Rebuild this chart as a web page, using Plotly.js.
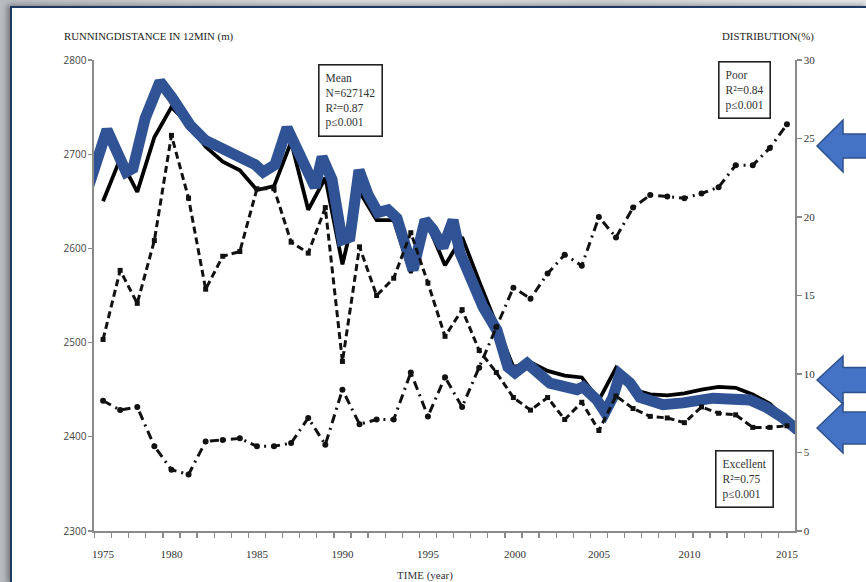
<!DOCTYPE html>
<html>
<head>
<meta charset="utf-8">
<script src="https://cdn.plot.ly/plotly-3.0.1.min.js"></script>
<style>
  html, body { margin: 0; padding: 0; }
  body {
    width: 866px; height: 582px; overflow: hidden; position: relative;
    background: linear-gradient(90deg, #b8bbbf 0%, #d9dbde 40%, #cfd2d5 70%, #e3e5e7 100%);
  }
  #chart {
    position: absolute; left: 10px; top: 6px; width: 856px; height: 576px;
    background: #ffffff;
    border-left: 2px solid #1f3763; border-top: 2px solid #1f3763;
    box-shadow: -3px -1px 5px rgba(0,0,0,0.35);
  }
</style>
</head>
<body>
<div id="chart"></div>
<script>
// Yearly survey values, 1975-2015
const years = [1975,1976,1977,1978,1979,1980,1981,1982,1983,1984,1985,1986,1987,1988,1989,1990,
               1991,1992,1993,1994,1995,1996,1997,1998,1999,2000,2001,2002,2003,2004,2005,2006,
               2007,2008,2009,2010,2011,2012,2013,2014,2015];

// Mean 12-minute running distance (m), left axis
const meanDistance = [2650,2695,2660,2718,2750,2732,2708,2692,2683,2662,2666,2713,2641,2675,2583,2660,
                      2630,2630,2574,2625,2582,2612,2565,2520,2474,2479,2470,2465,2463,2439,2473,2450,
                      2445,2444,2446,2450,2453,2452,2445,2435,2418];

// Share of "Excellent" results (%), right axis
const excellentPct = [12.2,16.6,14.5,18.5,25.2,21.2,15.4,17.5,17.8,21.8,21.8,18.4,17.7,20.6,10.8,18.1,
                      15.0,16.1,19.0,15.8,12.4,14.1,11.5,10.1,8.5,7.7,8.5,7.1,8.2,6.4,8.6,7.8,
                      7.3,7.2,6.9,7.9,7.5,7.4,6.6,6.6,6.7];

// Share of "Poor" results (%), right axis
const poorPct = [8.3,7.7,7.9,5.4,3.9,3.6,5.7,5.8,5.9,5.4,5.4,5.6,7.2,5.5,9.0,6.8,
                 7.1,7.1,10.1,7.3,9.8,7.9,10.4,13.0,15.5,14.8,16.4,17.6,16.9,20.0,18.7,20.6,
                 21.4,21.3,21.2,21.5,21.9,23.3,23.3,24.4,25.9];

// Freehand highlight traced over the mean curve
const highlightYears = [1974.12,1975.23,1976.35,1976.75,1977.46,1978.33,1979.04,1980.09,1980.96,1981.84,
                        1983.01,1983.89,1984.36,1985.06,1985.76,1986.52,1987.40,1987.81,1988.39,1988.98,
                        1989.44,1989.97,1990.50,1991.08,1991.67,1992.19,1993.13,1993.83,1994.30,1994.88,
                        1995.47,1995.88,1996.64,1997.22,1998.04,1998.68,1999.09,1999.80,2001.14,2002.72,
                        2003.07,2003.89,2004.36,2004.82,2005.23,2005.82,2006.40,2007.75,2008.92,2010.67,
                        2012.84,2013.83,2014.77,2015.64];
const highlightValues = [2664,2726,2681,2685,2738,2777,2760,2731,2715,2707,
                         2699,2689,2681,2689,2728,2701,2665,2697,2673,2609,
                         2612,2683,2657,2638,2641,2632,2577,2630,2620,2601,
                         2630,2595,2559,2538,2513,2474,2468,2478,2457,2450,
                         2453,2439,2426,2442,2466,2457,2442,2434,2436,2441,
                         2439,2431,2420,2407];

// Axis labels
const xTickVals = [1975,1979,1984,1989,1994,1999.1,2004,2009.3,2015];
const xTickText = ['1975','1980','1985','1990','1995','2000','2005','2010','2015'];

const serif = 'Liberation Serif, Times New Roman, serif';
const sans = 'Open Sans, Liberation Sans, sans-serif';
const axisGrey = '#8a8a8a';

const traces = [
  {
    x: years, y: poorPct, yaxis: 'y2', type: 'scatter', mode: 'lines+markers',
    line: {color: '#111', width: 3, dash: '9px,5px,2px,5px'},
    marker: {color: '#111', size: 6, symbol: 'circle'},
    hoverinfo: 'skip'
  },
  {
    x: years, y: excellentPct, yaxis: 'y2', type: 'scatter', mode: 'lines+markers',
    line: {color: '#111', width: 3, dash: '7px,4px'},
    marker: {color: '#111', size: 5, symbol: 'square'},
    hoverinfo: 'skip'
  },
  {
    x: years, y: meanDistance, type: 'scatter', mode: 'lines',
    line: {color: '#000', width: 3.8},
    hoverinfo: 'skip'
  },
  {
    x: highlightYears, y: highlightValues, type: 'scatter', mode: 'lines',
    line: {color: '#2f5394', width: 11},
    hoverinfo: 'skip'
  }
];

// Plot area in page pixels, used to place the side arrows and free text
const L = 94, R = 795, T = 60, B = 531, OX = 12, OY = 8;
const px = X => (X - L) / (R - L);
const py = Y => (B - Y) / (B - T);
function arrow(tipY, headHalf, shaftHalf) {
  const tipX = 817, backX = 843, endX = 872;
  const pts = [
    [tipX, tipY], [backX, tipY - headHalf], [backX, tipY - shaftHalf], [endX, tipY - shaftHalf],
    [endX, tipY + shaftHalf], [backX, tipY + shaftHalf], [backX, tipY + headHalf]
  ];
  return {
    type: 'path', xref: 'paper', yref: 'paper',
    path: 'M' + pts.map(p => px(p[0]).toFixed(4) + ',' + py(p[1]).toFixed(4)).join(' L') + ' Z',
    fillcolor: '#4472c4', line: {color: '#2f528f', width: 1.5}, layer: 'above'
  };
}

const boxFont = {family: serif, size: 11.5, color: '#333'};
function statBox(x, y, yref, text) {
  return {
    x: x, y: y, xref: 'x', yref: yref, text: text, showarrow: false, align: 'left',
    font: boxFont, bgcolor: '#fff', bordercolor: '#222', borderwidth: 1.6, borderpad: 6
  };
}

const layout = {
  width: 856, height: 576,
  margin: {l: L - OX, r: 856 - (R - OX), t: T - OY, b: 576 - (B - OY), pad: 0},
  paper_bgcolor: 'rgba(0,0,0,0)', plot_bgcolor: 'rgba(0,0,0,0)',
  showlegend: false,
  xaxis: {
    range: [1974.47, 2015.47], showgrid: false, zeroline: false,
    showline: true, linecolor: axisGrey, linewidth: 1.6,
    tickmode: 'array', tickvals: xTickVals, ticktext: xTickText, ticks: '',
    ticklabelstandoff: 12,
    tickfont: {family: serif, size: 11, color: '#333'},
    minor: {ticks: 'outside', ticklen: 5, tickwidth: 1.3, tickcolor: axisGrey, dtick: 1, tick0: 1974.5, showgrid: false}
  },
  yaxis: {
    range: [2300, 2800], dtick: 100, showgrid: false, zeroline: false,
    showline: true, linecolor: axisGrey, linewidth: 1.6,
    ticks: 'outside', ticklen: 4, tickwidth: 1.3, tickcolor: axisGrey,
    tickfont: {family: sans, size: 10, color: '#444'}
  },
  yaxis2: {
    range: [0, 30], dtick: 5, overlaying: 'y', side: 'right', showgrid: false, zeroline: false,
    showline: true, linecolor: axisGrey, linewidth: 1.6,
    ticks: 'outside', ticklen: 5, tickwidth: 1.3, tickcolor: axisGrey,
    tickfont: {family: serif, size: 11, color: '#333'}
  },
  annotations: [
    {xref: 'paper', yref: 'paper', x: px(62), y: py(36), xanchor: 'left', yanchor: 'middle',
     text: 'RUNNINGDISTANCE IN 12MIN (m)', showarrow: false,
     font: {family: serif, size: 10.8, color: '#1a1a1a'}},
    {xref: 'paper', yref: 'paper', x: px(816), y: py(36), xanchor: 'right', yanchor: 'middle',
     text: 'DISTRIBUTION(%)', showarrow: false,
     font: {family: serif, size: 10.8, color: '#1a1a1a'}},
    {xref: 'paper', yref: 'paper', x: px(425), y: py(575), xanchor: 'center', yanchor: 'middle',
     text: 'TIME (year)', showarrow: false,
     font: {family: serif, size: 11, color: '#333'}},
    statBox(1989.5, 2757, 'y', 'Mean<br>N=627142<br>R²=0.87<br>p≤0.001'),
    statBox(2012.5, 28.1, 'y2', 'Poor<br>R²=0.84<br>p≤0.001'),
    statBox(2012.5, 3.3, 'y2', 'Excellent<br>R²=0.75<br>p≤0.001')
  ],
  shapes: [arrow(146, 26, 12), arrow(380, 24, 12.5), arrow(428, 25, 16)]
};

Plotly.newPlot('chart', traces, layout, {staticPlot: true, displayModeBar: false});
</script>
</body>
</html>
